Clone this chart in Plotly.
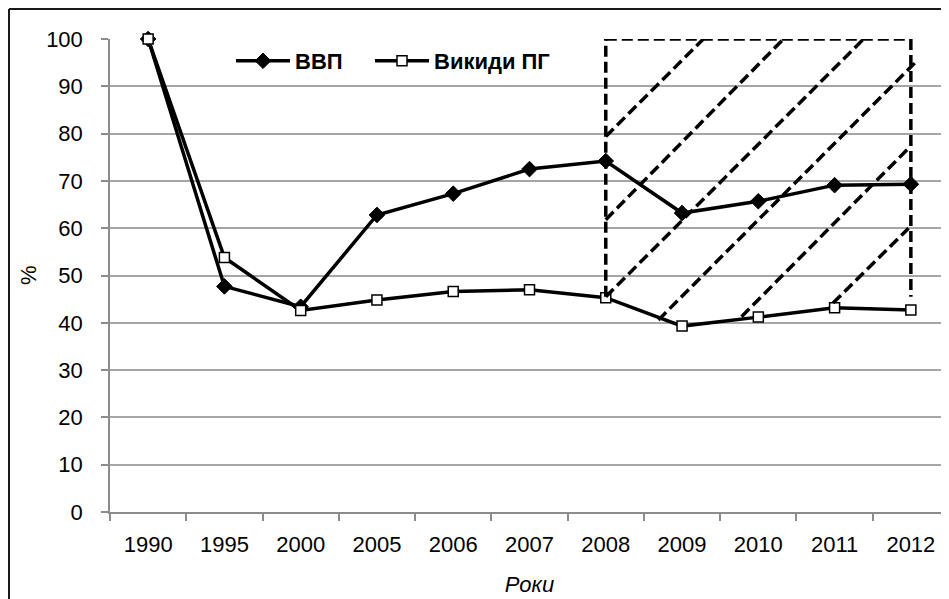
import plotly.graph_objects as go

years = ["1990", "1995", "2000", "2005", "2006", "2007", "2008", "2009", "2010", "2011", "2012"]
gdp = [100, 47.7, 43.4, 62.8, 67.3, 72.5, 74.2, 63.2, 65.7, 69.1, 69.3]
emissions = [100, 53.8, 42.6, 44.8, 46.6, 47.0, 45.3, 39.3, 41.2, 43.2, 42.7]
y_ticks = [0, 10, 20, 30, 40, 50, 60, 70, 80, 90, 100]

# highlighted period (category index range, value range)
region_x = (6, 10)
region_y = (45.5, 100)
# hatch segments inside region: (x0, y0, x1, y1) in category index / value units
hatch = [
    (6.0, 79.4, 7.28, 100),
    (6.0, 61.8, 8.33, 100),
    (6.0, 45.5, 9.38, 100),
    (6.69, 40.6, 10.05, 94.9),
    (7.78, 41.3, 9.97, 76.9),
    (8.98, 44.2, 9.97, 60.0),
]

FONT = "Liberation Sans, Arial, sans-serif"
FS = 22

fig = go.Figure()
fig.add_trace(go.Scatter(
    x=years, y=gdp, name="ВВП", mode="lines+markers", legend="legend",
    line=dict(color="black", width=3.5),
    marker=dict(symbol="diamond", size=12, color="black", line=dict(color="black", width=1)),
    cliponaxis=False,
))
fig.add_trace(go.Scatter(
    x=years, y=emissions, name="Викиди ПГ", mode="lines+markers", legend="legend2",
    line=dict(color="black", width=3.5),
    marker=dict(symbol="square", size=10, color="white", line=dict(color="black", width=1.5)),
    cliponaxis=False,
))

dash = "11px,5px"
shapes = []
x0, x1 = region_x
y0, y1 = region_y
for (a, b, c, d) in [(x0, y0, x0, y1), (x0, y1, x1, y1), (x1, y1, x1, y0)]:
    shapes.append(dict(type="line", xref="x", yref="y", x0=a, y0=b, x1=c, y1=d,
                       line=dict(color="black", width=3.5, dash=dash), layer="above"))
for (a, b, c, d) in hatch:
    shapes.append(dict(type="line", xref="x", yref="y", x0=a, y0=b, x1=c, y1=d,
                       line=dict(color="black", width=3.5, dash=dash), layer="above"))

W, H = 949, 599
L, R, T, B = 102, 8, 31, 95
pw, ph = W - L - R, H - T - B
# chart frame (only its left and top edges fall inside the window)
bx = (1 - L) / pw
by = 1 + (T - 1) / ph
shapes.append(dict(type="line", xref="paper", yref="paper", x0=bx, x1=bx, y0=by, y1=-0.3,
                   line=dict(color="#1a1a1a", width=2)))
shapes.append(dict(type="line", xref="paper", yref="paper", x0=bx, x1=1.1, y0=by, y1=by,
                   line=dict(color="#1a1a1a", width=2)))


def px_x(sx):
    return (sx - 8 - L) / pw


def px_y(sy):
    return 1 - (sy - 8 - T) / ph


leg_common = dict(
    orientation="h", xanchor="left", yanchor="middle",
    font=dict(family=FONT, size=FS, color="black", weight="bold"),
    bgcolor="rgba(0,0,0,0)", itemwidth=54,
)

fig.update_layout(
    width=W, height=H,
    margin=dict(l=L, r=R, t=T, b=B, autoexpand=False),
    paper_bgcolor="white", plot_bgcolor="white",
    font=dict(family=FONT, size=FS, color="black"),
    shapes=shapes,
    showlegend=True,
    legend=dict(x=px_x(231), y=px_y(61), **leg_common),
    legend2=dict(x=px_x(370), y=px_y(61), **leg_common),
    annotations=[dict(
        text="%", xref="paper", yref="paper", x=px_x(28), y=px_y(275),
        xanchor="center", yanchor="middle", textangle=-90, showarrow=False,
        font=dict(family=FONT, size=FS, color="black"),
    )],
    xaxis=dict(
        type="category", categoryorder="array", categoryarray=years, automargin=False,
        range=[-0.5, 10.5], showgrid=False, showline=True, linecolor="#8c8c8c", linewidth=1.5,
        ticks="outside", tickson="boundaries", ticklen=7, tickcolor="#8c8c8c", tickwidth=1.5,
        ticklabelstandoff=12,
        title=dict(text="<i>Роки</i>", standoff=20, font=dict(family=FONT, size=FS)),
        zeroline=False,
    ),
    yaxis=dict(
        range=[0, 100], tickvals=y_ticks, showgrid=True, gridcolor="#a6a6a6", gridwidth=1.5,
        showline=True, linecolor="#8c8c8c", linewidth=1.5, zeroline=False, automargin=False,
        ticks="outside", ticklen=7, tickcolor="#8c8c8c", tickwidth=1.5,
        ticklabelstandoff=14,
    ),
)

fig.write_html("out.html")
